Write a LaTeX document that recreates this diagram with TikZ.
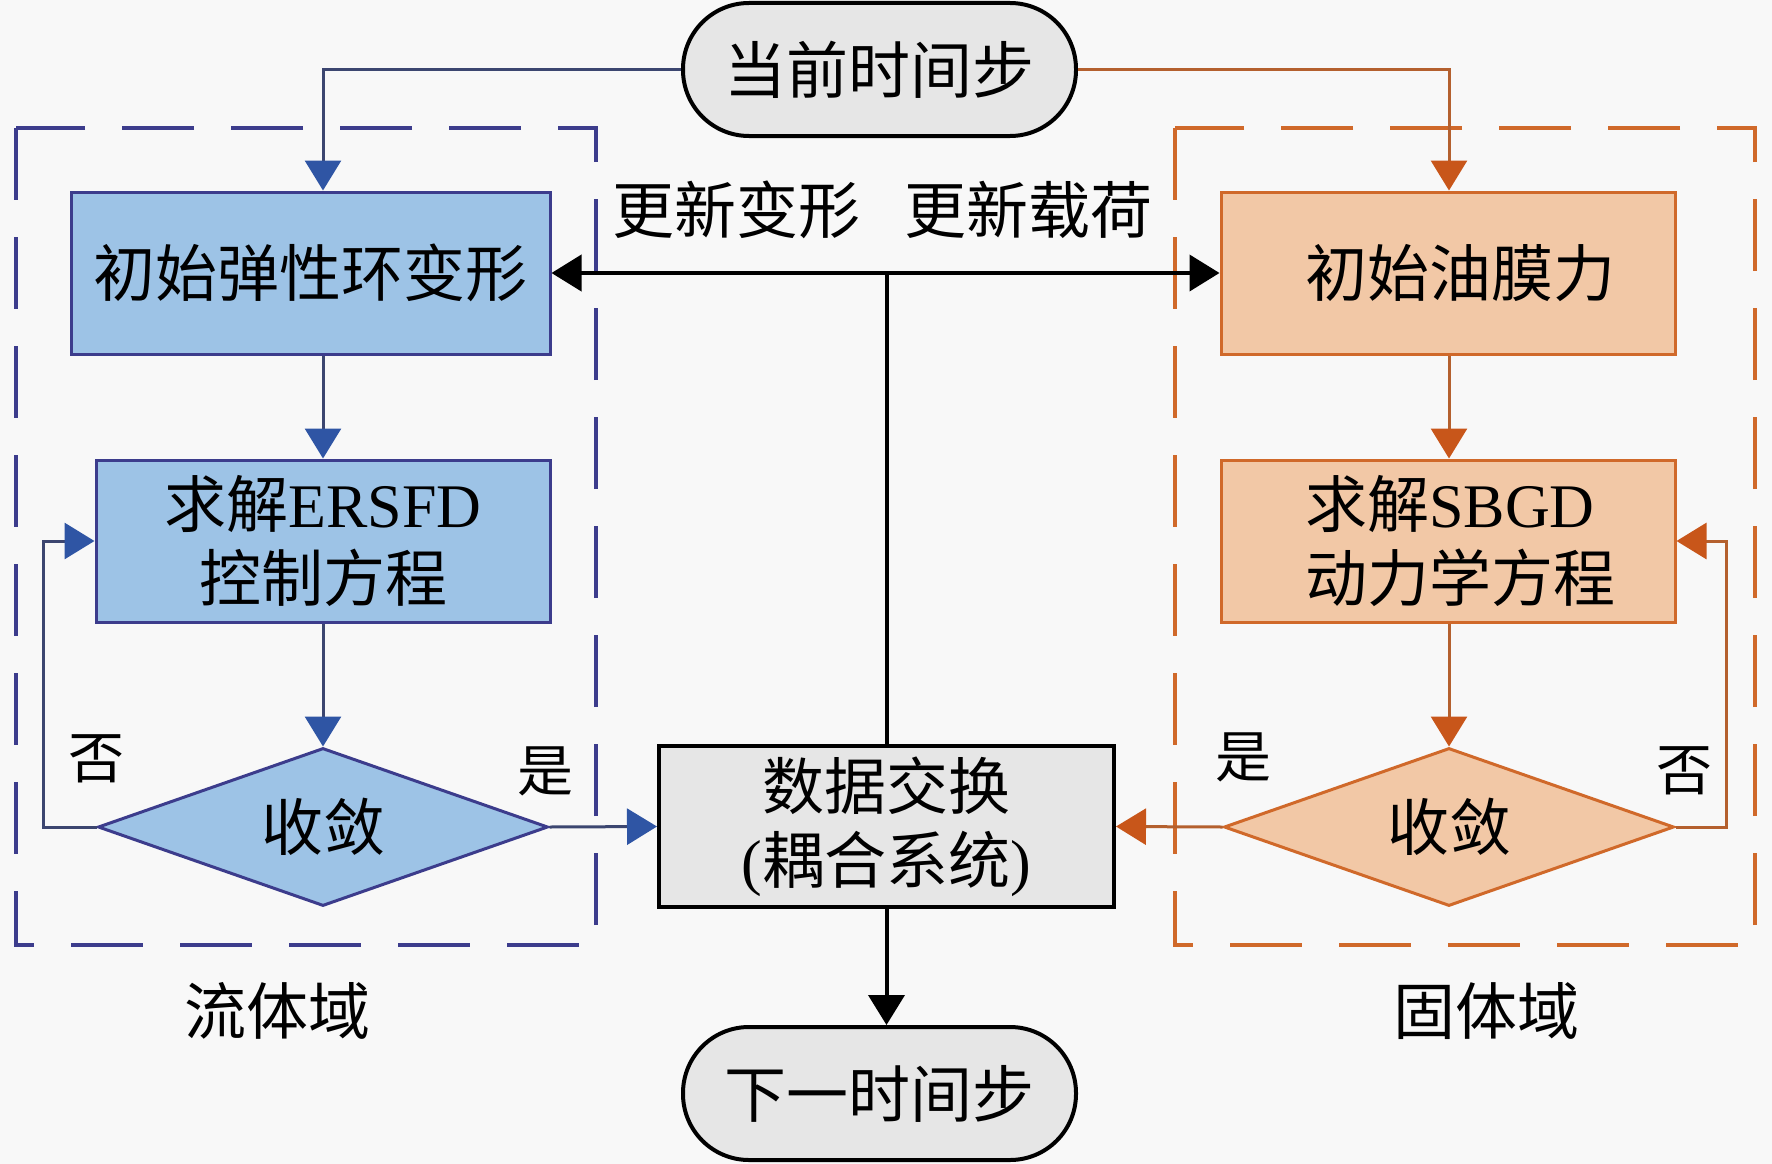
\documentclass[tikz,border=0pt]{standalone}
\usepackage{fontspec}
\setmainfont{Noto Sans CJK SC}
\newfontfamily\lat{Liberation Serif}
\usetikzlibrary{arrows.meta,shapes.geometric}
\definecolor{bgc}{HTML}{F8F8F8}
\definecolor{bfill}{HTML}{9DC3E6}
\definecolor{bdraw}{HTML}{3C3C8C}
\definecolor{barrow}{HTML}{2F55A4}
\definecolor{bline}{HTML}{3C4670}
\definecolor{ofill}{HTML}{F2C8A6}
\definecolor{odraw}{HTML}{D0692A}
\definecolor{oarrow}{HTML}{C8561A}
\definecolor{oline}{HTML}{B4602E}
\definecolor{gfill}{HTML}{E6E6E6}
\tikzset{
  bigfont/.style={font=\fontsize{62pt}{74pt}\selectfont},
  midfont/.style={font=\fontsize{56pt}{64pt}\selectfont},
  bluebox/.style={draw=bdraw, fill=bfill, line width=3pt, inner sep=0pt, bigfont},
  orangebox/.style={draw=odraw, fill=ofill, line width=3pt, inner sep=0pt, bigfont},
  graybox/.style={draw=black, fill=gfill, line width=4pt, inner sep=0pt, bigfont},
  stadium/.style={draw=black, fill=gfill, line width=4pt, inner sep=0pt, bigfont,
     minimum width=393pt, minimum height=133pt, rounded corners=66pt},
  decision/.style={diamond, aspect=2.84, line width=3pt, inner sep=0pt,
     minimum width=450pt, minimum height=158pt, bigfont},
  bluearr/.style={draw=bline, line width=3pt, -{Triangle[length=30pt,width=36pt,fill=barrow,color=barrow]}},
  orangearr/.style={draw=oline, line width=3pt, -{Triangle[length=30pt,width=36pt,fill=oarrow,color=oarrow]}},
  blackarr/.style={draw=black, line width=4pt, -{Triangle[length=30pt,width=36pt]}},
  bluedash/.style={draw=bdraw, line width=3.5pt, dash pattern=on 72pt off 37pt},
  orangedash/.style={draw=odraw, line width=3.5pt, dash pattern=on 72pt off 37pt},
  lbl/.style={inner sep=0pt, bigfont},
  small/.style={inner sep=0pt, midfont},
}
\begin{document}
\begin{tikzpicture}[x=1pt,y=-1pt]
\fill[bgc] (0,0) rectangle (1772,1164);
\useasboundingbox (0,0) rectangle (1772,1164);

% dashed domains
\draw[bluedash] (16,128) rectangle (596,945);
\draw[orangedash] (1175,128) rectangle (1755,945);

% terminals
\node[stadium] (top) at (879.5,69.5) {当前时间步};
\node[stadium] (bot) at (879.5,1093.5) {下一时间步};

% left column
\node[bluebox, minimum width=479pt, minimum height=162pt] (lb1) at (310.5,273) {初始弹性环变形};
\node[bluebox, minimum width=454pt, minimum height=162pt, align=center] (lb2) at (323,541) {求解{\lat ERSFD}\\控制方程};
\node[decision, draw=bdraw, fill=bfill] (ld) at (323,827) {收敛};

% right column
\node[orangebox, minimum width=454pt, minimum height=162pt] (rb1) at (1448,273) {};
\node[lbl, anchor=west] (rb1t) at (1305,273) {初始油膜力};
\node[orangebox, minimum width=454pt, minimum height=162pt] (rb2) at (1448,541) {};
\node[lbl, anchor=west, align=left] (rb2t) at (1305,541) {求解{\lat SBGD}\\动力学方程};
\node[decision, draw=odraw, fill=ofill] (rd) at (1449,827) {收敛};

% data exchange
\node[graybox, minimum width=455pt, minimum height=161pt, align=center] (dx) at (886.5,826.5) {数据交换\\{\lat (}耦合系统{\lat )}};

% coordinates
\coordinate (ltop) at (323,69.5);
\coordinate (rtop) at (1449,69.5);
\coordinate (lfb) at (43,827);
\coordinate (rfb) at (1726,827);

% connectors
\draw[bluearr] (top.west) -- (ltop) -- (ltop |- lb1.north);
\draw[orangearr] (top.east) -- (rtop) -- (rtop |- rb1.north);
\draw[bluearr] (lb2.north |- lb1.south) -- (lb2.north);
\draw[bluearr] (lb2.south) -- (ld.north);
\draw[orangearr] (rb1.south -| rd.north) -- (rb2.north -| rd.north);
\draw[orangearr] (rb2.south -| rd.north) -- (rd.north);
\draw[bluearr] (ld.west) -- (lfb) |- (lb2.west);
\draw[orangearr] (rd.east) -- (rfb) |- (rb2.east);
\draw[bluearr] (ld.east) -- (dx.west);
\draw[orangearr] (rd.west) -- (dx.east);
\draw[blackarr, {Triangle[length=30pt,width=36pt]}-{Triangle[length=30pt,width=36pt]}] (lb1.east) -- (rb1.west);
\draw[black, line width=4pt] (dx.north) -- (dx.north |- lb1.east);
\draw[blackarr] (dx.south) -- (dx.south |- bot.north);

% labels
\node[lbl] (l1) at (736,210) {更新变形};
\node[lbl] (l2) at (1028,210) {更新载荷};
\node[small] (no1) at (96,759) {否};
\node[small] (yes1) at (545,771) {是};
\node[small] (yes2) at (1243,757) {是};
\node[small] (no2) at (1684,771) {否};
\node[lbl] (fl) at (277,1011) {流体域};
\node[lbl] (sd) at (1486,1011) {固体域};
\end{tikzpicture}
\end{document}
